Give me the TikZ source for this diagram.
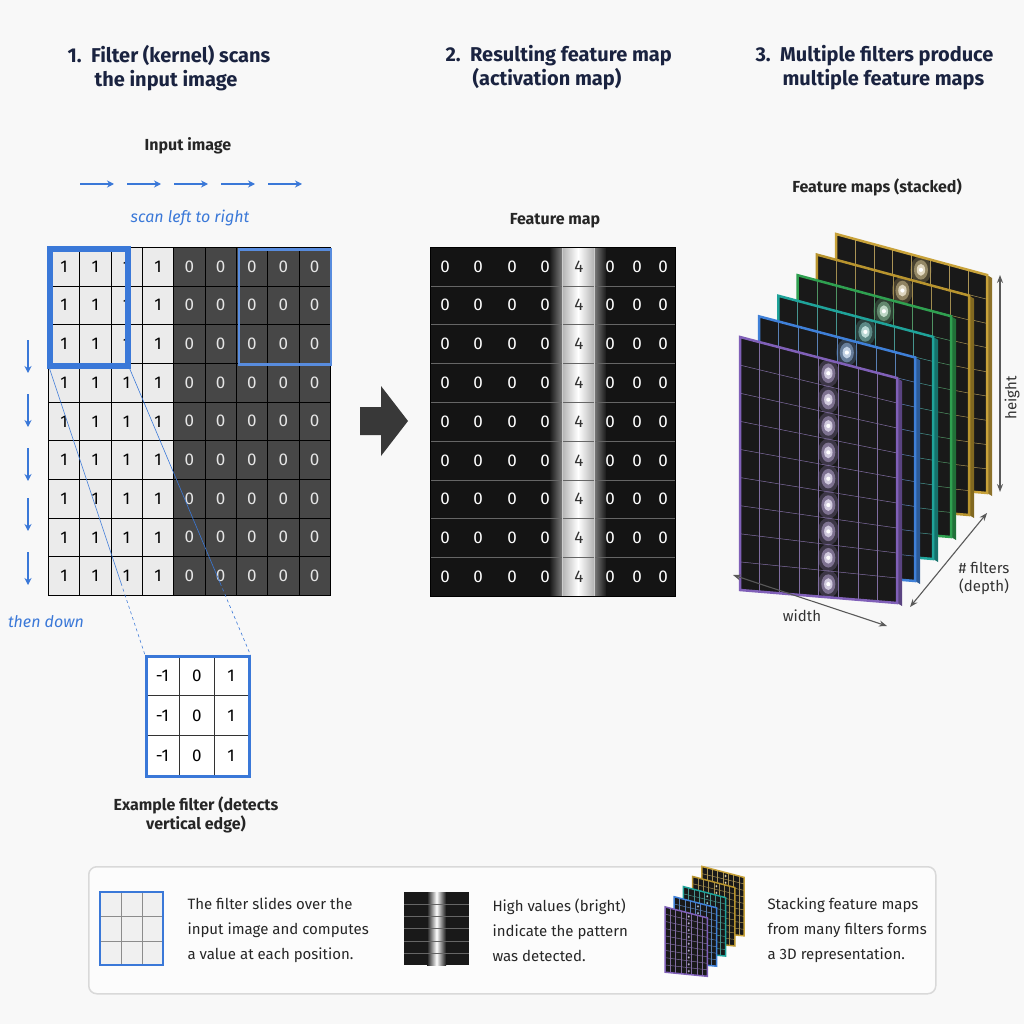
\documentclass[tikz,border=0pt]{standalone}
\usepackage{fontspec}
\setmainfont{Fira Sans}
\usetikzlibrary{calc,arrows.meta}
\definecolor{navy}{HTML}{1A2340}
\definecolor{scanblue}{HTML}{3A78D8}
\definecolor{bg}{HTML}{F8F8F8}
\definecolor{cpurple}{HTML}{8060B8}
\definecolor{cblue}{HTML}{3F80D8}
\definecolor{cteal}{HTML}{1FA39A}
\definecolor{cgreen}{HTML}{2FA050}
\definecolor{cgold}{HTML}{C8A23A}
\definecolor{cgoldb}{HTML}{B8942E}
\tikzset{
 title/.style={font=\bfseries\fontsize{20}{24}\selectfont, text=navy, align=left, anchor=north west},
 sub/.style={font=\bfseries\fontsize{16}{19}\selectfont, text=black!85},
 blueit/.style={font=\itshape\fontsize{16}{19}\selectfont, text=scanblue},
 leg/.style={font=\fontsize{15}{25}\selectfont, text=black!85, align=left, anchor=west},
 scanarr/.style={-{Stealth[length=7pt,width=7pt]}, scanblue, line width=1.5pt},
 dimarr/.style={{Stealth[length=8pt]}-{Stealth[length=8pt]}, black!65, line width=1.1pt},
 lightcell/.style={fill=black!8, draw=black, line width=0.6pt},
 darkcell/.style={fill=black!72, draw=black, line width=0.6pt},
}
% panel: TL TR BR BL color linewidth glowradius
\newcommand\mypanel[7]{%
 \fill[black!90] (#1)--(#2)--(#3)--(#4)--cycle;
 \foreach \rr in {0,...,8} {
  \coordinate (gc) at ($($(#1)!{(\rr+0.5)/9}!(#4)$)!0.5625!($(#2)!{(\rr+0.5)/9}!(#3)$)$);
  \fill[#5!70!white, opacity=0.25] (gc) ellipse (#7*1.5pt and #7*2pt);
  \fill[#5!50!white, opacity=0.5] (gc) ellipse (#7*1.0pt and #7*1.4pt);
  \fill[#5!20!white, opacity=0.8] (gc) ellipse (#7*0.6pt and #7*0.85pt);
  \fill[white] (gc) circle (#7*0.3pt);
 }
 \foreach \cc in {1,...,7} \draw[#5!60!gray, line width=0.5pt] ($(#1)!\cc/8!(#2)$) -- ($(#4)!\cc/8!(#3)$);
 \foreach \rr in {1,...,8} \draw[#5!60!gray, line width=0.5pt] ($(#1)!\rr/9!(#4)$) -- ($(#2)!\rr/9!(#3)$);
 \draw[#5, line width=#6] (#1)--(#2)--(#3)--(#4)--cycle;
}
\begin{document}
\begin{tikzpicture}[x=1pt,y=-1pt]
\fill[bg] (0,0) rectangle (1024,1024);
\useasboundingbox (0,0) rectangle (1024,1024);

% titles
\node[title] (t1) at (64,42) {1.\ \ Filter (kernel) scans\\\hspace{1.35em}the input image};
\node[title] (t2) at (442,42) {2.\ \ Resulting feature map\\\hspace{1.35em}(activation map)};
\node[title] (t3) at (752,42) {3.\ \ Multiple filters produce\\\hspace{1.35em}multiple feature maps};

% ---------- panel 1 ----------
\node[sub] (inlab) at (188,146) {Input image};
\foreach \x in {80,127,174,221,268} \draw[scanarr] (\x,184) -- (\x+34,184);
\node[blueit] (scan) at (190,218) {scan left to right};
\foreach \i in {0,...,8} \foreach \j in {0,...,8} {
  \pgfmathsetmacro\xa{48+\i*31.33}\pgfmathsetmacro\ya{247+\j*38.67}
  \ifnum\i<4
   \node[lightcell, minimum width=31.33pt, minimum height=38.67pt, anchor=north west, inner sep=0pt, font=\fontsize{17}{17}\selectfont] (in\i\j) at (\xa,\ya) {1};
  \else
   \node[darkcell, minimum width=31.33pt, minimum height=38.67pt, anchor=north west, inner sep=0pt, text=black!10, font=\fontsize{17}{17}\selectfont] (in\i\j) at (\xa,\ya) {0};
  \fi
}
\draw[black, line width=1pt] (48,247) rectangle (330,595);
\node[draw=scanblue, line width=4pt, minimum width=76pt, minimum height=115pt, anchor=north west, inner sep=0pt] (box1) at (49,248) {};
\draw[scanblue, line width=4pt] (box1.north west) rectangle (box1.south east);
\node[draw=scanblue!85, line width=2.5pt, minimum width=92pt, minimum height=115pt, anchor=north west, inner sep=0pt] (box2) at (237.5,248) {};
\foreach \y in {340,394,448,498,552} \draw[scanarr] (28,\y) -- (28,\y+33);
\node[blueit] (down) at (46,622) {then down};

% filter
\foreach \i/\v in {0/-1,1/0,2/1} \foreach \j in {0,1,2} {
 \node[draw=black!80, fill=white, line width=0.7pt, minimum width=34.3pt, minimum height=40pt, anchor=north west, inner sep=0pt, font=\fontsize{17}{17}\selectfont] (f\i\j) at (145+\i*34.3,655+\j*40) {\v};
}
\node[draw=scanblue, line width=2.5pt, minimum width=103pt, minimum height=120pt, anchor=north west, inner sep=0pt] (filt) at (145,655) {};
\draw[scanblue, line width=0.6pt] (box1.south west) -- ($(box1.south west)!0.75!(filt.north west)$);
\draw[scanblue, line width=0.6pt, dashed] ($(box1.south west)!0.75!(filt.north west)$) -- (filt.north west);
\draw[scanblue, line width=0.6pt] (box1.south east) -- ($(box1.south east)!0.75!(filt.north east)$);
\draw[scanblue, line width=0.6pt, dashed] ($(box1.south east)!0.75!(filt.north east)$) -- (filt.north east);
\node[sub, align=center] (flab) at (196,815) {Example filter (detects\\vertical edge)};

% big arrow
\fill[black!78] (360,407) -- (381,407) -- (381,386) -- (408,421) -- (381,456) -- (381,435) -- (360,435) -- cycle;

% ---------- panel 2 ----------
\node[sub] (fmlab) at (555,221) {Feature map};
\fill[black!92] (430,247) rectangle (675,596);
\shade[left color=black!90, right color=black!90, middle color=white] (550,247) rectangle (606,596);
\shade[left color=white!70!black, right color=white!70!black, middle color=white] (562,247) rectangle (594,596);
\foreach \j in {1,...,8} \draw[black!60, line width=0.4pt] (430,247+\j*38.8) -- (675,247+\j*38.8);
\draw[white!80!black, line width=0.6pt] (562,247) -- (562,596) (594,247) -- (594,596);
\foreach \xf [count=\i] in {445,478,512,545,579,610,637,663} \foreach \j in {0,...,8} {
 \ifnum\i=5
  \node[font=\fontsize{17}{17}\selectfont, text=black!80] (fm\i\j) at (\xf,266.4+\j*38.8) {4};
 \else
  \node[font=\fontsize{17}{17}\selectfont, text=white] (fm\i\j) at (\xf,266.4+\j*38.8) {0};
 \fi
}
\draw[black, line width=1pt] (430,247) rectangle (675,596);

% ---------- panel 3 ----------
\node[sub] (fslab) at (877,187) {Feature maps (stacked)};
\foreach \k/\pcol in {5/cgold,4/cgoldb,3/cgreen,2/cteal,1/cblue,0/cpurple} {
 \coordinate (pa) at (740+\k*19.2,337-\k*20.6);
 \coordinate (pb) at (897+\k*18,378-\k*20.6);
 \coordinate (pc) at (897+\k*18,603-\k*22);
 \coordinate (pd) at (740+\k*19.2,590-\k*22);
 \fill[\pcol!70!black] (pb) -- ++(5,3) -- ($(pc)+(5,3)$) -- (pc) -- cycle;
 \mypanel{pa}{pb}{pc}{pd}{\pcol}{2.5pt}{7}
}
\coordinate (h1) at (1000,275); \coordinate (h2) at (1000,492);
\draw[dimarr] (h1) -- (h2);
\node[rotate=90, font=\fontsize{15}{15}\selectfont, text=black!80] (hl) at (1012,398) {height};
\coordinate (w1) at (733,575); \coordinate (w2) at (887,626);
\draw[dimarr] (w1) -- (w2);
\node[font=\fontsize{15}{15}\selectfont, text=black!80] (wl) at (802,616) {width};
\coordinate (d1) at (910,607); \coordinate (d2) at (987,513);
\draw[dimarr] (d1) -- (d2);
\node[font=\fontsize{15}{18}\selectfont, text=black!80, align=center] (dl) at (984,578) {\# filters\\(depth)};

% ---------- legend ----------
\node[draw=black!15, line width=1.5pt, fill=white!60!bg, rounded corners=8pt, minimum width=847pt, minimum height=127pt, anchor=north west] (legend) at (88,866) {};
\foreach \i in {0,1,2} \foreach \j in {0,1,2}
 \node[fill=black!6, draw=black!45, line width=0.5pt, minimum width=21pt, minimum height=24.3pt, anchor=north west, inner sep=0pt] (g\i\j) at (100+\i*21,892+\j*24.3) {};
\draw[scanblue, line width=1.2pt] (100,892) rectangle (163,965);
\node[leg] (l1) at (184,930) {The filter slides over the\\input image and computes\\a value at each position.};
\fill[black!90] (404,892) rectangle (469,965);
\shade[left color=black!90, right color=black!90, middle color=white] (427,892) rectangle (446,965);
\foreach \j in {1,...,5} \draw[black!60, line width=0.3pt] (404,892+\j*12.2) -- (469,892+\j*12.2);
\node[leg] (l2) at (489,930) {High values (bright)\\indicate the pattern\\was detected.};
\begin{scope}[shift={(665,882)}, scale=0.46]
\foreach \k/\pcol in {4/cgold,3/cgoldb,2/cteal,1/cblue,0/cpurple} {
 \coordinate (pa) at (0+\k*20,54-\k*22);
 \coordinate (pb) at (92+\k*20,78-\k*22);
 \coordinate (pc) at (92+\k*20,205-\k*22);
 \coordinate (pd) at (0+\k*20,196-\k*22);
 \mypanel{pa}{pb}{pc}{pd}{\pcol}{1.5pt}{2}
}
\end{scope}
\node[leg] (l3) at (764,930) {Stacking feature maps\\from many filters forms\\a 3D representation.};
\end{tikzpicture}
\end{document}
